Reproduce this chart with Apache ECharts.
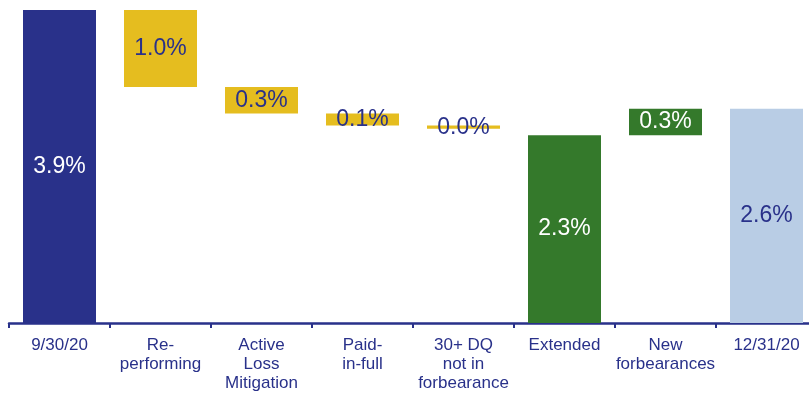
<!DOCTYPE html>
<html>
<head>
<meta charset="utf-8">
<style>
html,body{margin:0;padding:0;background:#fff;overflow:hidden;}
#wrap{width:809px;height:393px;overflow:hidden;}
#chart{width:817px;height:393px;}
</style>
<script src="https://cdn.jsdelivr.net/npm/echarts@6/dist/echarts.min.js"></script>
</head>
<body>
<div id="wrap"><div id="chart"></div></div>
<script>
// Data
var categories = ["9/30/20", "Re-\nperforming", "Active\nLoss\nMitigation", "Paid-\nin-full", "30+ DQ\nnot in\nforbearance", "Extended", "New\nforbearances", "12/31/20"];
var barBottom = [0, 2.94, 2.61, 2.46, 2.42, 0, 2.34, 0];
var barTop    = [3.90, 3.90, 2.94, 2.61, 2.46, 2.34, 2.67, 2.67];
var valueLabels = ["3.9%", "1.0%", "0.3%", "0.1%", "0.0%", "2.3%", "0.3%", "2.6%"];
var barColors = ["#29318a", "#e5bd1f", "#e5bd1f", "#e5bd1f", "#e5bd1f", "#34792b", "#34792b", "#b9cde5"];
var labelColors = ["#ffffff", "#29318a", "#29318a", "#29318a", "#29318a", "#ffffff", "#ffffff", "#29318a"];

var heights = barTop.map(function(t, i){ return +(t - barBottom[i]).toFixed(4); });

var chart = echarts.init(document.getElementById('chart'), null, {renderer: 'canvas'});
var font = '"Liberation Sans", Arial, sans-serif';
chart.setOption({
  animation: false,
  grid: {left: 9, right: 0, top: 10, bottom: 68, containLabel: false},
  xAxis: {
    type: 'category',
    data: categories,
    axisLine: {lineStyle: {color: '#29318a', width: 2.5}},
    axisTick: {show: true, length: 5, lineStyle: {color: '#29318a', width: 2}},
    axisLabel: {color: '#29318a', fontSize: 17, lineHeight: 19, margin: 13, fontFamily: font, interval: 0}
  },
  yAxis: {type: 'value', min: 0, max: 3.9, show: false, splitLine: {show: false}},
  series: [
    {
      type: 'bar', stack: 'w', barWidth: 73,
      itemStyle: {color: 'rgba(0,0,0,0)'},
      emphasis: {disabled: true},
      data: barBottom
    },
    {
      type: 'bar', stack: 'w', barWidth: 73,
      data: heights.map(function(h, i){
        return {
          value: h,
          itemStyle: {color: barColors[i]},
          label: {color: labelColors[i]}
        };
      }),
      label: {
        show: true, position: 'inside', fontSize: 23, fontFamily: font,
        formatter: function(p){ return valueLabels[p.dataIndex]; }
      }
    }
  ]
});
</script>
</body>
</html>
